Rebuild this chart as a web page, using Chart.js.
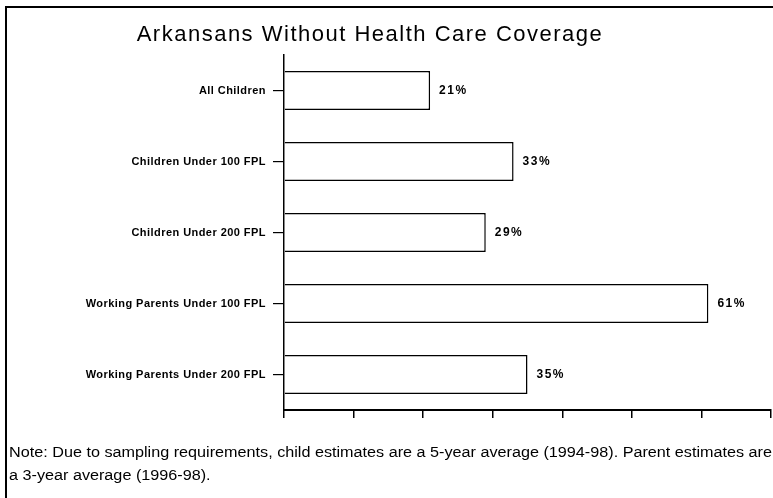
<!DOCTYPE html>
<html>
<head>
<meta charset="utf-8">
<script src="https://cdn.jsdelivr.net/npm/chart.js@4.4.0/dist/chart.umd.min.js"></script>
<style>
    html, body { margin: 0; padding: 0; background: #fff; }
    #wrap { width: 773px; height: 498px; position: relative; }
</style>
</head>
<body>
<div id="wrap"><canvas id="chart_bar"></canvas></div>
<script>
const categories = [
    'All Children',
    'Children Under 100 FPL',
    'Children Under 200 FPL',
    'Working Parents Under 100 FPL',
    'Working Parents Under 200 FPL'
];
const percentUninsured = [21, 33, 29, 61, 35];
const axisMax = 70;
const axisStep = 10;

const titleText = 'Arkansans Without Health Care Coverage';
const noteLines = [
    'Note: Due to sampling requirements, child estimates are a 5-year average (1994-98). Parent estimates are',
    'a 3-year average (1996-98).'
];

// spaced-out tick labels like the original
const spacing = {
    id: 'spacing',
    beforeDraw(chart) {
        chart.ctx.letterSpacing = '0.45px';
    },
    beforeDatasetsDraw(chart) {
        chart.ctx.letterSpacing = '0px';
    }
};

// title, frame, note and value labels
const decorations = {
    id: 'decorations',
    afterDraw(chart) {
        const { ctx } = chart;
        ctx.save();

        // frame
        ctx.strokeStyle = '#000';
        ctx.lineWidth = 2;
        ctx.beginPath();
        ctx.moveTo(6, 498);
        ctx.lineTo(6, 7);
        ctx.lineTo(773, 7);
        ctx.stroke();

        // title
        ctx.fillStyle = '#000';
        ctx.letterSpacing = '1.5px';
        ctx.font = '22px "Liberation Sans", Arial, sans-serif';
        ctx.textAlign = 'center';
        ctx.textBaseline = 'middle';
        ctx.fillText(titleText, 370, 35);

        // value labels
        ctx.letterSpacing = '1.5px';
        ctx.font = 'bold 12px "Liberation Sans", Arial, sans-serif';
        ctx.textAlign = 'left';
        const meta = chart.getDatasetMeta(0);
        meta.data.forEach((bar, i) => {
            ctx.fillText(percentUninsured[i] + '%', bar.x + 9, bar.y);
        });

        // note, stretched to the full width like the scan
        ctx.letterSpacing = '0px';
        ctx.font = '14px "Liberation Sans", Arial, sans-serif';
        const w = ctx.measureText(noteLines[0]).width;
        const sx = 763 / w;
        ctx.save();
        ctx.translate(9, 0);
        ctx.scale(sx, 1);
        ctx.fillText(noteLines[0], 0, 453);
        ctx.fillText(noteLines[1], 0, 476);
        ctx.restore();
        ctx.restore();
    }
};

var ctx = document.getElementById('chart_bar');

new Chart(ctx, {
    type: 'bar',
    data: {
        labels: categories,
        datasets: [{
            data: percentUninsured,
            backgroundColor: '#fff',
            borderColor: '#000',
            borderWidth: 1.5,
            borderSkipped: 'left',
            barPercentage: 0.55,
            categoryPercentage: 1.0
        }]
    },
    plugins: [spacing, decorations],
    options: {
        indexAxis: 'y',
        responsive: true,
        maintainAspectRatio: false,
        animation: false,
        devicePixelRatio: 1,
        layout: {
            padding: { left: 0, top: 55, right: 2, bottom: 0 }
        },
        scales: {
            x: {
                min: 0,
                max: axisMax,
                afterFit: (scale) => { scale.height = 88; },
                border: { display: true, color: '#000', width: 2 },
                grid: {
                    drawOnChartArea: false,
                    drawTicks: true,
                    tickLength: 8,
                    color: '#000',
                    lineWidth: 1.5
                },
                ticks: {
                    stepSize: axisStep,
                    display: false
                }
            },
            y: {
                afterFit: (scale) => { scale.width = 284; },
                border: { display: true, color: '#000', width: 1.5 },
                grid: {
                    offset: false,
                    drawOnChartArea: false,
                    drawTicks: true,
                    tickLength: 11,
                    color: '#000',
                    lineWidth: 1.2
                },
                ticks: {
                    color: '#000',
                    padding: 7,
                    font: { family: '"Liberation Sans", Arial, sans-serif', size: 11, weight: 'bold' }
                }
            }
        },
        plugins: {
            legend: { display: false },
            tooltip: { enabled: false },
            title: { display: false }
        }
    }
});
</script>
</body>
</html>
